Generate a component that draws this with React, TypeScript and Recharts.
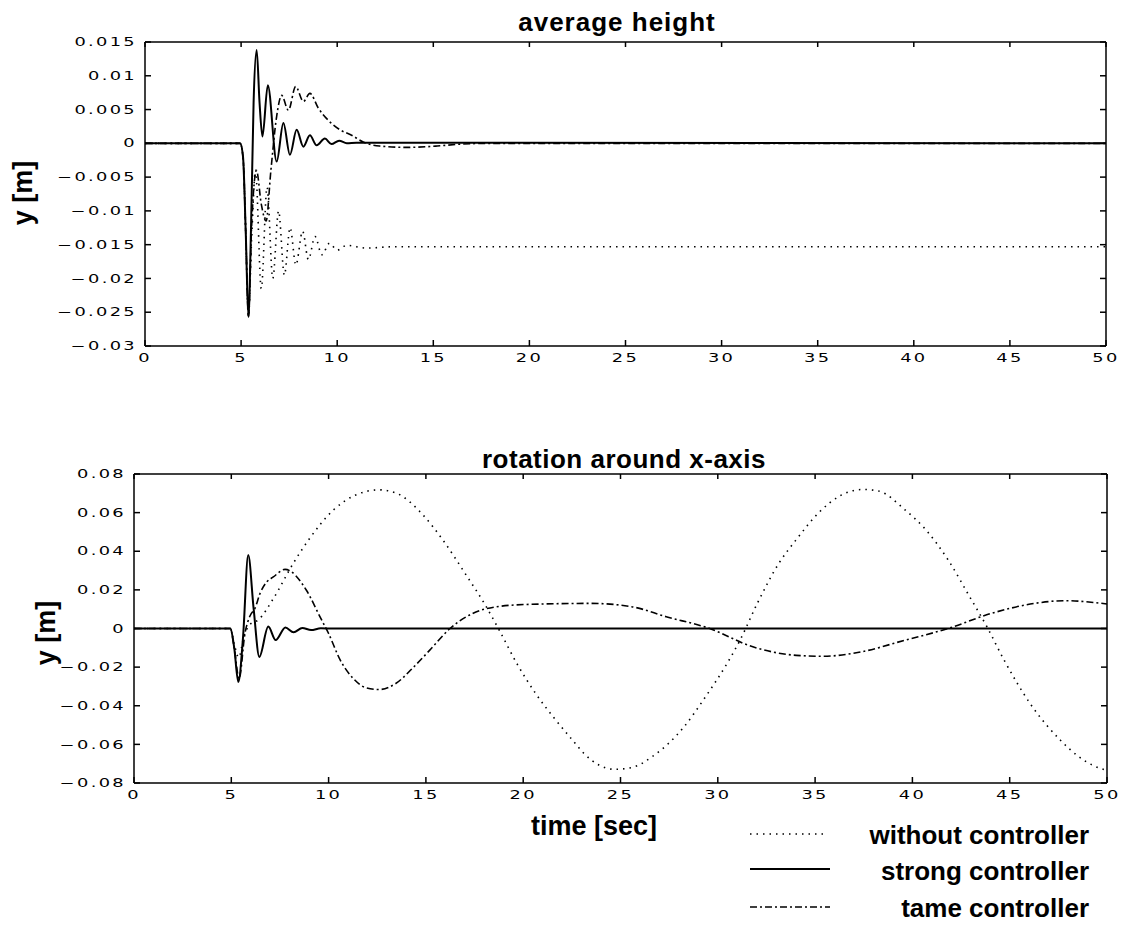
import React from "react"
import { LineChart, Line, XAxis, YAxis } from "recharts"

// time axis ticks (seconds)
const timeTicks = [0, 5, 10, 15, 20, 25, 30, 35, 40, 45, 50]
const heightTicks = [-0.03, -0.025, -0.02, -0.015, -0.01, -0.005, 0, 0.005, 0.01, 0.015]
const rotationTicks = [-0.08, -0.06, -0.04, -0.02, 0, 0.02, 0.04, 0.06, 0.08]

// average height — without controller
const hWithoutT = [0, 4.95, 5.1, 5.24, 5.38, 5.55, 5.75, 6.05, 6.35, 6.65, 6.95, 7.25, 7.55, 7.85, 8.2, 8.5, 8.85, 9.2, 9.6, 10.0, 10.5, 11.5, 13, 50]
const hWithoutY = [0, 0, -0.002, -0.013, -0.0257, -0.014, -0.004, -0.0215, -0.0065, -0.02, -0.01, -0.0195, -0.0125, -0.018, -0.013, -0.0172, -0.0138, -0.0165, -0.0148, -0.0158, -0.0151, -0.0155, -0.0153, -0.0153]

// average height — strong controller
const hStrongT = [0, 4.95, 5.1, 5.24, 5.38, 5.52, 5.65, 5.81, 5.96, 6.11, 6.39, 6.85, 7.2, 7.54, 7.89, 8.24, 8.58, 8.93, 9.36, 9.7, 10.1, 10.5, 11.0, 50]
const hStrongY = [0, 0, -0.002, -0.013, -0.0257, -0.012, 0.006, 0.0138, 0.006, 0.001, 0.0086, -0.0027, 0.003, -0.0017, 0.002, -0.0005, 0.0012, -0.0003, 0.0007, -0.0001, 0.0004, 0, 0.0001, 0]

// average height — tame controller
const hTameT = [0, 4.95, 5.1, 5.24, 5.38, 5.55, 5.8, 6.05, 6.3, 6.55, 6.85, 7.11, 7.46, 7.84, 8.24, 8.58, 9.02, 9.54, 10.15, 10.75, 11.35, 12.2, 13.6, 15.2, 16.5, 18, 50]
const hTameY = [0, 0, -0.002, -0.013, -0.0257, -0.012, -0.004, -0.009, -0.0115, -0.004, 0.004, 0.0071, 0.0049, 0.0084, 0.0062, 0.0074, 0.0052, 0.0034, 0.002, 0.0012, 0.0002, -0.0004, -0.0006, -0.0004, -0.0001, 0, 0]

// rotation around x-axis — without controller
const rWithoutT = [0, 4.95, 5.15, 5.38, 5.65, 5.95, 6.4, 7.16, 8.2, 8.96, 10.24, 11.36, 12.6, 13.5, 14.86, 15.88, 17.08, 18.0, 18.75, 19.7, 20.65, 21.56, 22.56, 23.12, 24.68, 25.57, 26.68, 28.24, 29.35, 30.47, 31.14, 32.03, 33.14, 34.03, 35.26, 36.26, 37.48, 38.26, 39.6, 40.7, 41.83, 42.94, 43.83, 44.72, 46.06, 47.62, 48.5, 49.3, 50]
const rWithoutY = [0, 0, -0.008, -0.015, -0.004, 0.002, 0.0045, 0.0155, 0.034, 0.0457, 0.0613, 0.069, 0.0718, 0.07, 0.0587, 0.0457, 0.0275, 0.013, -0.0005, -0.0186, -0.0338, -0.046, -0.0581, -0.0647, -0.0729, -0.072, -0.066, -0.0512, -0.0356, -0.0182, -0.0061, 0.013, 0.0338, 0.046, 0.0607, 0.0686, 0.072, 0.0712, 0.0616, 0.051, 0.0356, 0.0165, 0.0009, -0.0165, -0.039, -0.058, -0.066, -0.071, -0.0735]

// rotation around x-axis — strong controller
const rStrongT = [0, 4.95, 5.15, 5.36, 5.6, 5.87, 6.15, 6.44, 6.9, 7.28, 7.78, 8.2, 8.65, 9.1, 9.6, 10.2, 50]
const rStrongY = [0, 0, -0.01, -0.0277, -0.005, 0.038, 0.01, -0.0147, 0.001, -0.006, 0.0005, -0.002, 0.0003, -0.0008, 0.0001, 0, 0]

// rotation around x-axis — tame controller
const rTameT = [0, 4.95, 5.15, 5.4, 5.7, 5.96, 6.22, 6.47, 6.82, 7.16, 7.76, 8.86, 9.56, 10.0, 10.6, 11.27, 11.9, 12.6, 13.45, 14.3, 15.2, 16.24, 17.4, 18.6, 20.3, 23.5, 25.57, 27.35, 29.58, 31.8, 34.03, 35.37, 37.37, 39.6, 41.83, 44.05, 46.28, 47.84, 50]
const rTameY = [0, 0, -0.01, -0.026, -0.0026, 0.0065, 0.0105, 0.018, 0.0241, 0.0267, 0.0306, 0.0198, 0.006, -0.0026, -0.0164, -0.0259, -0.0306, -0.0316, -0.0285, -0.0207, -0.0112, 0, 0.0078, 0.0112, 0.0125, 0.013, 0.0113, 0.0061, 0, -0.0095, -0.0139, -0.0144, -0.0121, -0.0061, 0, 0.0078, 0.013, 0.0144, 0.0127]

const zip = (ts: number[], ys: number[]) => ts.map((t, i) => ({ t, y: ys[i] }))

const DOTTED = "1.5 5"
const DASHDOT = "7 3 2 3"
const TICK_LEN = 6
const GAP = 8

const fmt = (v: number) => (v === 0 ? "0" : (v < 0 ? "\u2212" : "") + String(Math.abs(v)))

const tickFont = { fontFamily: "DejaVu Sans", fontSize: 11.5, letterSpacing: 1.5, fill: "#000" }

// ticks point into the plot, labels sit outside (matlab style)
const LeftTick = ({ x, y, payload }: any) => (
  <g>
    <line x1={x + GAP} x2={x + GAP + TICK_LEN} y1={y} y2={y} stroke="#000" strokeWidth={1.5} />
    <g transform={`translate(${x},${y}) scale(1.55,1)`}>
      <text x={0} y={0} dy="0.36em" textAnchor="end" {...tickFont}>
        {fmt(payload.value)}
      </text>
    </g>
  </g>
)

const BottomTick = ({ x, y, payload }: any) => (
  <g>
    <line x1={x} x2={x} y1={y - GAP} y2={y - GAP - TICK_LEN} stroke="#000" strokeWidth={1.5} />
    <g transform={`translate(${x},${y}) scale(1.55,1)`}>
      <text x={0} y={0} dy="0.71em" textAnchor="middle" {...tickFont}>
        {payload.value}
      </text>
    </g>
  </g>
)

const TopTick = ({ x, y }: any) => <line x1={x} x2={x} y1={y} y2={y + TICK_LEN - 1} stroke="#000" strokeWidth={1.5} />

const RightTick = ({ x, y }: any) => <line x1={x} x2={x - TICK_LEN} y1={y} y2={y} stroke="#000" strokeWidth={1.5} />

type Pt = { t: number; y: number }

type PanelProps = {
  top: number
  margin: { top: number; right: number; bottom: number; left: number }
  domain: [number, number]
  ticks: number[]
  without: Pt[]
  strong: Pt[]
  tame: Pt[]
}

const Panel = ({ top, margin, domain, ticks, without, strong, tame }: PanelProps) => (
  <div style={{ position: "absolute", left: 0, top }}>
    <LineChart width={1130} height={400} margin={margin}>
      <XAxis
        xAxisId="bottom"
        type="number"
        dataKey="t"
        domain={[0, 50]}
        ticks={timeTicks}
        interval={0}
        height={30}
        tickSize={0}
        tickMargin={GAP}
        tickLine={false}
        stroke="#000"
        strokeWidth={1.5}
        tick={<BottomTick />}
        allowDataOverflow
      />
      <XAxis
        xAxisId="top"
        orientation="top"
        type="number"
        dataKey="t"
        domain={[0, 50]}
        ticks={timeTicks}
        interval={0}
        height={2}
        tickSize={0}
        tickMargin={0}
        tickLine={false}
        stroke="#000"
        strokeWidth={1.5}
        tick={<TopTick />}
        allowDataOverflow
      />
      <YAxis
        yAxisId="left"
        type="number"
        domain={domain}
        ticks={ticks}
        interval={0}
        width={60}
        tickSize={0}
        tickMargin={GAP}
        tickLine={false}
        stroke="#000"
        strokeWidth={1.5}
        tick={<LeftTick />}
        allowDataOverflow
      />
      <YAxis
        yAxisId="right"
        orientation="right"
        type="number"
        domain={domain}
        ticks={ticks}
        interval={0}
        width={2}
        tickSize={0}
        tickMargin={0}
        tickLine={false}
        stroke="#000"
        strokeWidth={1.5}
        tick={<RightTick />}
        allowDataOverflow
      />
      <Line
        data={without}
        dataKey="y"
        xAxisId="bottom"
        yAxisId="left"
        type="monotone"
        stroke="#000"
        strokeWidth={1.6}
        strokeDasharray={DOTTED}
        dot={false}
        isAnimationActive={false}
      />
      <Line
        data={tame}
        dataKey="y"
        xAxisId="bottom"
        yAxisId="left"
        type="monotone"
        stroke="#000"
        strokeWidth={1.6}
        strokeDasharray={DASHDOT}
        dot={false}
        isAnimationActive={false}
      />
      <Line
        data={strong}
        dataKey="y"
        xAxisId="bottom"
        yAxisId="left"
        type="monotone"
        stroke="#000"
        strokeWidth={2}
        dot={false}
        isAnimationActive={false}
      />
    </LineChart>
  </div>
)

const labelFont = { fontFamily: "Liberation Sans, Arial, sans-serif", fontWeight: 700, fill: "#000" }

export default function App() {
  return (
    <div style={{ position: "absolute", left: 0, top: 0, width: 1130, height: 937, background: "#fff" }}>
      <Panel
        top={0}
        margin={{ top: 40, right: 22, bottom: 24, left: 85 }}
        domain={[-0.03, 0.015]}
        ticks={heightTicks}
        without={zip(hWithoutT, hWithoutY)}
        strong={zip(hStrongT, hStrongY)}
        tame={zip(hTameT, hTameY)}
      />
      <Panel
        top={440}
        margin={{ top: 32, right: 21, bottom: 27, left: 74 }}
        domain={[-0.08, 0.08]}
        ticks={rotationTicks}
        without={zip(rWithoutT, rWithoutY)}
        strong={zip(rStrongT, rStrongY)}
        tame={zip(rTameT, rTameY)}
      />
      <svg
        width={1130}
        height={937}
        style={{ position: "absolute", left: 0, top: 0, pointerEvents: "none" }}
      >
        <text x={617} y={31} textAnchor="middle" fontSize={26} letterSpacing={1} {...labelFont}>
          average height
        </text>
        <text x={624} y={468} textAnchor="middle" fontSize={26} letterSpacing={0.5} {...labelFont}>
          rotation around x-axis
        </text>
        <text x={23} y={193} dy="0.35em" textAnchor="middle" fontSize={27} transform="rotate(-90 23 193)" {...labelFont}>
          y [m]
        </text>
        <text x={46} y={633} dy="0.35em" textAnchor="middle" fontSize={27} transform="rotate(-90 46 633)" {...labelFont}>
          y [m]
        </text>
        <text x={594} y={835} textAnchor="middle" fontSize={27} {...labelFont}>
          time [sec]
        </text>
        <line x1={750} y1={834} x2={826} y2={834} stroke="#000" strokeWidth={1.5} strokeDasharray={DOTTED} />
        <line x1={750} y1={869} x2={830} y2={869} stroke="#000" strokeWidth={2} />
        <line x1={750} y1={907} x2={830} y2={907} stroke="#000" strokeWidth={1.5} strokeDasharray={DASHDOT} />
        <text x={1089} y={844} textAnchor="end" fontSize={26} {...labelFont}>
          without controller
        </text>
        <text x={1089} y={880} textAnchor="end" fontSize={26} {...labelFont}>
          strong controller
        </text>
        <text x={1089} y={917} textAnchor="end" fontSize={26} {...labelFont}>
          tame controller
        </text>
      </svg>
    </div>
  )
}
